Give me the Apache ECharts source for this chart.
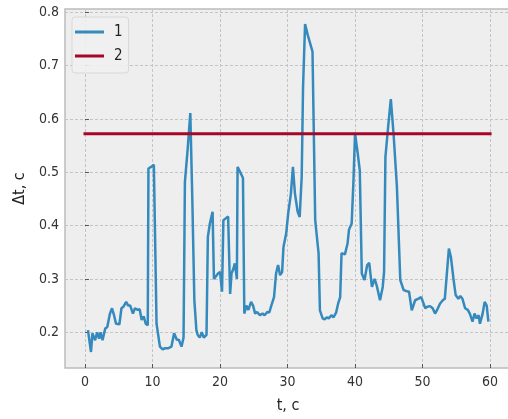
<!DOCTYPE html>
<html>
<head>
<meta charset="utf-8">
<script src="https://cdn.jsdelivr.net/npm/echarts@6/dist/echarts.min.js"></script>
<style>
  html, body { margin: 0; padding: 0; background: #fff; }
  #chart { width: 508px; height: 419px; }
</style>
</head>
<body>
<div id="chart"></div>
<script>
const tVals = [
  0.44, 0.89, 1.1, 1.5, 1.8, 2.1, 2.3, 2.6, 3.0, 3.3, 3.7, 4.0, 4.3, 4.6, 5.1, 5.4, 5.7, 6.1, 6.4, 6.7,
  7.1, 7.4, 7.8, 8.1, 8.4, 8.7, 9.0, 9.3, 9.4, 9.8, 10.2, 10.6, 11.1, 11.5, 11.85, 12.3, 12.8, 13.2, 13.6, 13.9,
  14.3, 14.6, 14.8, 15.2, 15.6, 15.9, 16.2, 16.5, 16.7, 17.0, 17.3, 17.6, 18.0, 18.2, 18.5, 18.9, 19.1, 19.4, 19.7, 20.0,
  20.3, 20.5, 20.8, 21.2, 21.5, 21.7, 22.0, 22.2, 22.5, 22.6, 23.0, 23.4, 23.6, 23.9, 24.2, 24.6, 24.9, 25.2, 25.5, 25.9,
  26.3, 26.6, 27.0, 27.3, 27.6, 28.0, 28.3, 28.6, 28.9, 29.2, 29.4, 29.8, 30.1, 30.5, 30.8, 31.1, 31.5, 31.8, 32.1, 32.3,
  32.6, 33.0, 33.7, 34.1, 34.6, 34.8, 35.2, 35.5, 35.8, 36.1, 36.5, 36.8, 37.2, 37.5, 37.8, 38.0, 38.5, 38.9, 39.1, 39.5,
  39.75, 40.0, 40.4, 40.7, 41.0, 41.4, 41.8, 42.1, 42.5, 42.9, 43.2, 43.7, 44.1, 44.3, 44.5, 44.9, 45.3, 45.7, 46.2, 46.7,
  47.2, 47.7, 48.0, 48.4, 48.9, 49.4, 49.8, 50.4, 50.7, 51.1, 51.5, 51.85, 52.2, 52.6, 53.0, 53.3, 53.6, 53.9, 54.2, 54.6,
  54.9, 55.3, 55.6, 55.9, 56.3, 56.7, 57.0, 57.4, 57.7, 58.0, 58.3, 58.5, 58.9, 59.2, 59.5, 59.75
];
const dtVals = [
  0.204, 0.163, 0.198, 0.185, 0.200, 0.188, 0.200, 0.185, 0.207, 0.210, 0.235, 0.245, 0.232, 0.216, 0.215, 0.245, 0.248, 0.257, 0.250, 0.250,
  0.235, 0.245, 0.242, 0.243, 0.223, 0.230, 0.216, 0.213, 0.507, 0.510, 0.514, 0.216, 0.173, 0.168, 0.170, 0.170, 0.173, 0.198, 0.186, 0.186,
  0.173, 0.190, 0.482, 0.542, 0.611, 0.448, 0.260, 0.204, 0.195, 0.190, 0.200, 0.190, 0.195, 0.379, 0.404, 0.426, 0.300, 0.305, 0.310, 0.313,
  0.276, 0.410, 0.413, 0.417, 0.272, 0.310, 0.320, 0.329, 0.300, 0.510, 0.500, 0.489, 0.235, 0.250, 0.242, 0.257, 0.250, 0.235, 0.238, 0.232,
  0.235, 0.232, 0.238, 0.237, 0.250, 0.266, 0.310, 0.326, 0.307, 0.313, 0.360, 0.385, 0.423, 0.460, 0.510, 0.460, 0.426, 0.416, 0.492, 0.660,
  0.778, 0.757, 0.726, 0.410, 0.348, 0.241, 0.226, 0.224, 0.228, 0.226, 0.232, 0.228, 0.237, 0.254, 0.266, 0.348, 0.346, 0.367, 0.392, 0.404,
  0.479, 0.573, 0.535, 0.504, 0.310, 0.298, 0.326, 0.330, 0.285, 0.300, 0.288, 0.260, 0.285, 0.313, 0.529, 0.585, 0.637, 0.573, 0.473, 0.298,
  0.279, 0.277, 0.276, 0.241, 0.260, 0.263, 0.266, 0.245, 0.248, 0.249, 0.245, 0.235, 0.243, 0.254, 0.260, 0.263, 0.310, 0.357, 0.341, 0.298,
  0.270, 0.263, 0.268, 0.263, 0.245, 0.242, 0.235, 0.220, 0.235, 0.226, 0.232, 0.216, 0.235, 0.257, 0.250, 0.220
];

// series 2: threshold level
const thrT = [0, 60];
const thrVal = [0.572, 0.572];

const xTicks = [0, 10, 20, 30, 40, 50, 60];
const yTicks = [0.2, 0.3, 0.4, 0.5, 0.6, 0.7, 0.8];

const FONT = '"DejaVu Sans Condensed", "DejaVu Sans", sans-serif';
const chart = echarts.init(document.getElementById('chart'));

const gridLine = { show: true, lineStyle: { color: '#c4c4c4', width: 1, type: [3, 2] } };

chart.setOption({
  animation: false,
  backgroundColor: '#ffffff',
  grid: {
    left: 65, right: -3, top: 9, bottom: 51,
    outerBoundsMode: 'none',
    show: true, backgroundColor: '#eeeeee', borderColor: '#bcbcbc', borderWidth: 1.5
  },
  legend: {
    left: 72, top: 17,
    orient: 'vertical',
    data: ['1', '2'],
    icon: 'rect',
    itemWidth: 29, itemHeight: 3, itemGap: 6,
    padding: [6, 6, 8, 3],
    backgroundColor: 'rgba(240,240,240,0.9)',
    borderColor: '#d8d8d8', borderWidth: 1, borderRadius: 3,
    textStyle: { fontFamily: FONT, fontSize: 15, color: '#222', lineHeight: 18, padding: [0, 0, 0, 5] }
  },
  xAxis: {
    type: 'value',
    min: -2.96, max: 63.1,
    name: 't, c', nameLocation: 'middle', nameGap: 30,
    nameTextStyle: { fontFamily: FONT, fontSize: 16, color: '#222' },
    axisLine: { show: false },
    axisTick: { show: true, inside: true, length: 4, customValues: xTicks, lineStyle: { color: '#555' } },
    axisLabel: { customValues: xTicks, margin: 7, fontFamily: FONT, fontSize: 14, color: '#333' },
    splitLine: gridLine
  },
  yAxis: {
    type: 'value',
    min: 0.133, max: 0.806,
    name: 'Δt, c', nameLocation: 'middle', nameGap: 35, nameRotate: 90,
    nameTextStyle: { fontFamily: FONT, fontSize: 16, color: '#222' },
    axisLine: { show: false },
    axisTick: { show: true, inside: true, length: 4, customValues: yTicks, lineStyle: { color: '#555' } },
    axisLabel: { customValues: yTicks, margin: 6, fontFamily: FONT, fontSize: 14, color: '#333',
      formatter: v => v.toFixed(1) },
    splitLine: gridLine
  },
  series: [
    {
      name: '1', type: 'line', symbol: 'none',
      data: tVals.map((t, i) => [t, dtVals[i]]),
      itemStyle: { color: '#348abd' },
      lineStyle: { color: '#348abd', width: 2.5 }
    },
    {
      name: '2', type: 'line', symbol: 'none',
      data: thrT.map((t, i) => [t, thrVal[i]]),
      itemStyle: { color: '#a60628' },
      lineStyle: { color: '#a60628', width: 3, cap: 'square' }
    }
  ]
});
</script>
</body>
</html>
